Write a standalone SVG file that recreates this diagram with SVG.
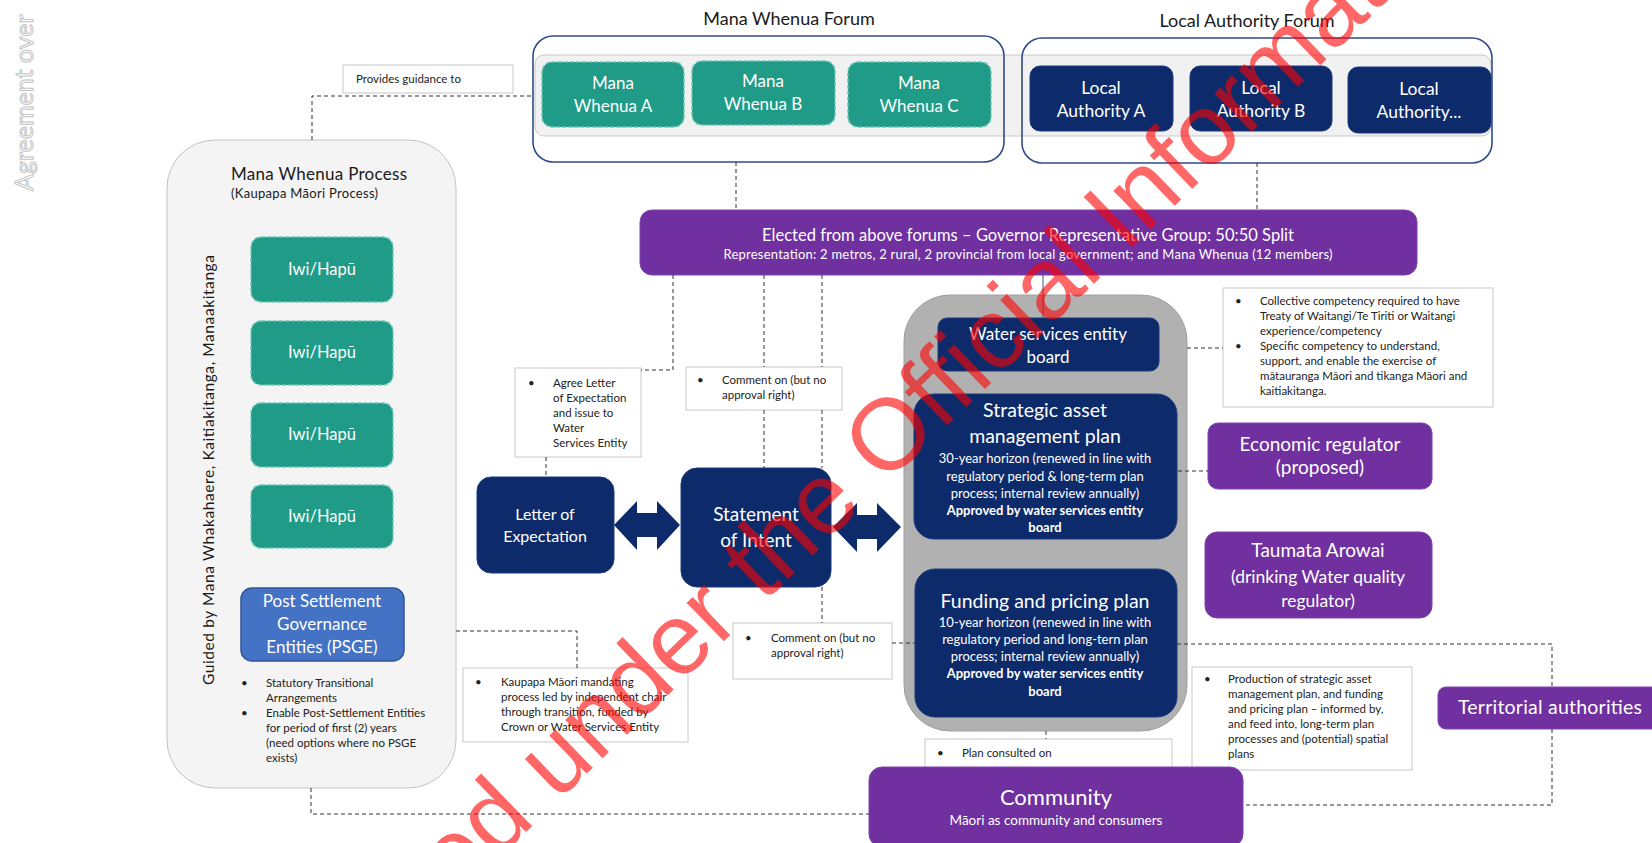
<svg xmlns="http://www.w3.org/2000/svg" width="1652" height="843" viewBox="0 0 1652 843">
<defs>
<style>
text{font-family:Lato,"Open Sans","Liberation Sans",sans-serif;}
.w{fill:#ffffff}
.c{text-anchor:middle}
.k{fill:#1a1a1a}
.note{fill:#ffffff;stroke:#c8c8c8;stroke-width:1}
.nt{font-size:11.5px;fill:#222222}
.teal{fill:#1f9b87;stroke:#6cc6b4;stroke-width:1.5;stroke-dasharray:4 2}
.navy{fill:#0d2b6b;stroke:#1d3b7c;stroke-width:1}
.purple{fill:#7030a0;stroke:#8044b0;stroke-width:1}
.dash{fill:none;stroke:#333333;stroke-width:1;stroke-dasharray:4 3}
.forum{fill:none;stroke:#2f4b8c;stroke-width:1.6}
.b{font-weight:bold}
</style>
</defs>
<rect x="0" y="0" width="1652" height="843" fill="#ffffff"/>

<!-- Top forums -->
<g id="forum-strip">
<rect x="535" y="55" width="956" height="81" rx="9" fill="#f1f1f1" stroke="#c9c9c9" stroke-width="1"/>
</g>
<g id="mana-whenua-forum">
<rect class="forum" x="533" y="36" width="471" height="126" rx="20"/>
<text x="789" y="25" class="c k" font-size="18">Mana Whenua Forum</text>
</g>
<g id="mana-whenua-a">
<rect class="teal" x="542" y="62" width="142" height="65" rx="10"/>
<text class="w c" x="613" y="89" font-size="17">Mana</text>
<text class="w c" x="613" y="112" font-size="17">Whenua A</text>
</g>
<g id="mana-whenua-b">
<rect class="teal" x="692" y="61" width="143" height="64" rx="10"/>
<text class="w c" x="763" y="87" font-size="17">Mana</text>
<text class="w c" x="763" y="110" font-size="17">Whenua B</text>
</g>
<g id="mana-whenua-c">
<rect class="teal" x="848" y="62" width="143" height="65" rx="10"/>
<text class="w c" x="919" y="89" font-size="17">Mana</text>
<text class="w c" x="919" y="112" font-size="17">Whenua C</text>
</g>

<g id="local-authority-forum">
<rect class="forum" x="1022" y="38" width="470" height="125" rx="20"/>
<text x="1247" y="27" class="c k" font-size="18">Local Authority Forum</text>
</g>
<g id="local-authority-a">
<rect class="navy" x="1030" y="66" width="143" height="65" rx="10"/>
<text class="w c" x="1101" y="94" font-size="17.5">Local</text>
<text class="w c" x="1101" y="117" font-size="17.5">Authority A</text>
</g>
<g id="local-authority-b">
<rect class="navy" x="1190" y="66" width="142" height="65" rx="10"/>
<text class="w c" x="1261" y="94" font-size="17.5">Local</text>
<text class="w c" x="1261" y="117" font-size="17.5">Authority B</text>
</g>
<g id="local-authority-c">
<rect class="navy" x="1348" y="67" width="143" height="66" rx="10"/>
<text class="w c" x="1419" y="95" font-size="17.5">Local</text>
<text class="w c" x="1419" y="118" font-size="17.5">Authority...</text>
</g>

<!-- Governor group -->
<g id="governor-group">
<rect class="purple" x="640" y="210" width="777" height="65" rx="12"/>
<text class="w c" x="1028" y="241" font-size="16.5" textLength="532">Elected from above forums – Governor Representative Group: 50:50 Split</text>
<text class="w c" x="1028" y="259" font-size="13" textLength="609">Representation: 2 metros, 2 rural, 2 provincial from local government; and Mana Whenua (12 members)</text>
</g>

<!-- Mana Whenua Process -->
<g id="mana-whenua-process">
<rect x="167" y="140" width="289" height="648" rx="48" fill="#f4f4f4" stroke="#c2c2c2" stroke-width="1"/>
<text x="231" y="180" font-size="17" class="k" textLength="176">Mana Whenua Process</text>
<text x="231" y="198" font-size="13" class="k" textLength="147">(Kaupapa Māori Process)</text>
<text transform="translate(214,470) rotate(-90)" class="c k" font-size="15.5" textLength="430">Guided by Mana Whakahaere, Kaitiakitanga, Manaakitanga</text>
</g>
<g id="iwi-1">
<rect class="teal" x="251" y="237" width="142" height="65" rx="10"/>
<text class="w c" x="322" y="275" font-size="16.5">Iwi/Hapū</text>
</g>
<g id="iwi-2">
<rect class="teal" x="251" y="321" width="142" height="64" rx="10"/>
<text class="w c" x="322" y="358" font-size="16.5">Iwi/Hapū</text>
</g>
<g id="iwi-3">
<rect class="teal" x="251" y="403" width="142" height="64" rx="10"/>
<text class="w c" x="322" y="440" font-size="16.5">Iwi/Hapū</text>
</g>
<g id="iwi-4">
<rect class="teal" x="251" y="485" width="142" height="63" rx="10"/>
<text class="w c" x="322" y="522" font-size="16.5">Iwi/Hapū</text>
</g>
<g id="psge">
<rect x="241" y="588" width="163" height="73" rx="11" fill="#4472c4" stroke="#2f5597" stroke-width="1.5"/>
<text class="w c" x="322" y="607" font-size="17">Post Settlement</text>
<text class="w c" x="322" y="630" font-size="17">Governance</text>
<text class="w c" x="322" y="653" font-size="17">Entities (PSGE)</text>
</g>
<g id="psge-notes" class="nt">
<text x="241" y="687">•</text>
<text x="266" y="687">Statutory Transitional</text>
<text x="266" y="702">Arrangements</text>
<text x="241" y="717">•</text>
<text x="266" y="717">Enable Post-Settlement Entities</text>
<text x="266" y="732">for period of first (2) years</text>
<text x="266" y="747">(need options where no PSGE</text>
<text x="266" y="762">exists)</text>
</g>

<!-- Notes -->
<g id="provides-guidance">
<rect class="note" x="343" y="65" width="170" height="28"/>
<text class="nt" x="356" y="83">Provides guidance to</text>
</g>
<g id="agree-letter-note" class="nt">
<rect class="note" x="515" y="368" width="126" height="89"/>
<text x="528" y="387">•</text>
<text x="553" y="387">Agree Letter</text>
<text x="553" y="402">of Expectation</text>
<text x="553" y="417">and issue to</text>
<text x="553" y="432">Water</text>
<text x="553" y="447">Services Entity</text>
</g>
<g id="comment-note-1" class="nt">
<rect class="note" x="686" y="367" width="156" height="43"/>
<text x="697" y="384">•</text>
<text x="722" y="384">Comment on (but no</text>
<text x="722" y="399">approval right)</text>
</g>
<g id="comment-note-2" class="nt">
<rect class="note" x="733" y="623" width="159" height="56"/>
<text x="745" y="642">•</text>
<text x="771" y="642">Comment on (but no</text>
<text x="771" y="657">approval right)</text>
</g>
<g id="kaupapa-note" class="nt">
<rect class="note" x="463" y="668" width="225" height="74"/>
<text x="475" y="686">•</text>
<text x="501" y="686">Kaupapa Māori mandating</text>
<text x="501" y="701">process led by independent chair</text>
<text x="501" y="716">through transition, funded by</text>
<text x="501" y="731">Crown or Water Services Entity</text>
</g>
<g id="competency-note" class="nt">
<rect class="note" x="1223" y="288" width="270" height="119"/>
<text x="1235" y="305">•</text>
<text x="1260" y="305">Collective competency required to have</text>
<text x="1260" y="320">Treaty of Waitangi/Te Tiriti or Waitangi</text>
<text x="1260" y="335">experience/competency</text>
<text x="1235" y="350">•</text>
<text x="1260" y="350">Specific competency to understand,</text>
<text x="1260" y="365">support, and enable the exercise of</text>
<text x="1260" y="380">mātauranga Māori  and tikanga Māori and</text>
<text x="1260" y="395">kaitiakitanga.</text>
</g>
<g id="production-note" class="nt">
<rect class="note" x="1192" y="667" width="220" height="103"/>
<text x="1204" y="683">•</text>
<text x="1228" y="683">Production of strategic asset</text>
<text x="1228" y="698">management plan, and funding</text>
<text x="1228" y="713">and pricing plan – informed by,</text>
<text x="1228" y="728">and feed into, long-term plan</text>
<text x="1228" y="743">processes and (potential) spatial</text>
<text x="1228" y="758">plans</text>
</g>
<g id="plan-consulted-note" class="nt">
<rect class="note" x="925" y="739" width="247" height="30"/>
<text x="937" y="757">•</text>
<text x="962" y="757">Plan consulted on</text>
</g>

<!-- Centre flow -->
<g id="letter-of-expectation">
<rect class="navy" x="477" y="477" width="137" height="96" rx="14"/>
<text class="w c" x="545" y="520" font-size="16">Letter of</text>
<text class="w c" x="545" y="542" font-size="16">Expectation</text>
</g>
<g id="statement-of-intent">
<rect class="navy" x="681" y="468" width="150" height="119" rx="16"/>
<text class="w c" x="756" y="521" font-size="19">Statement</text>
<text class="w c" x="756" y="547" font-size="19">of Intent</text>
</g>
<g id="arrows">
<polygon fill="#0d2b6b" points="614,525 637,501 637,513 657,513 657,501 680,525 657,550 657,537 637,537 637,550"/>
<polygon fill="#0d2b6b" points="833,527 857,503 857,515 877,515 877,503 901,527 877,552 877,539 857,539 857,552"/>
</g>

<!-- Water services entity -->
<g id="wse-container">
<rect x="904" y="295" width="283" height="436" rx="46" fill="#b1b1b1" stroke="#a0a0a0" stroke-width="1"/>
</g>
<g id="wse-board">
<rect class="navy" x="938" y="318" width="221" height="53" rx="9"/>
<text class="w c" x="1048" y="340" font-size="17">Water services entity</text>
<text class="w c" x="1048" y="363" font-size="17">board</text>
</g>
<g id="strategic-asset-plan">
<rect class="navy" x="914" y="394" width="263" height="145" rx="20"/>
<text class="w c" x="1045" y="417" font-size="19.5">Strategic asset</text>
<text class="w c" x="1045" y="443" font-size="19.5">management plan</text>
<text class="w c" x="1045" y="463" font-size="13">30-year horizon (renewed in line with</text>
<text class="w c" x="1045" y="481" font-size="13">regulatory period &amp; long-term plan</text>
<text class="w c" x="1045" y="498" font-size="13">process; internal review annually)</text>
<text class="w c b" x="1045" y="515" font-size="13">Approved by water services entity</text>
<text class="w c b" x="1045" y="532" font-size="13">board</text>
</g>
<g id="funding-pricing-plan">
<rect class="navy" x="915" y="569" width="262" height="148" rx="20"/>
<text class="w c" x="1045" y="608" font-size="19.5">Funding and pricing plan</text>
<text class="w c" x="1045" y="627" font-size="13">10-year horizon (renewed in line with</text>
<text class="w c" x="1045" y="644" font-size="13">regulatory period and long-tern plan</text>
<text class="w c" x="1045" y="661" font-size="13">process; internal review annually)</text>
<text class="w c b" x="1045" y="678" font-size="13">Approved by water services entity</text>
<text class="w c b" x="1045" y="696" font-size="13">board</text>
</g>

<!-- Regulators -->
<g id="economic-regulator">
<rect class="purple" x="1208" y="423" width="224" height="66" rx="10"/>
<text class="w c" x="1320" y="451" font-size="19">Economic regulator</text>
<text class="w c" x="1320" y="474" font-size="19">(proposed)</text>
</g>
<g id="taumata-arowai">
<rect class="purple" x="1205" y="532" width="227" height="86" rx="12"/>
<text class="w c" x="1318" y="557" font-size="19">Taumata Arowai</text>
<text class="w c" x="1318" y="583" font-size="17.5">(drinking Water quality</text>
<text class="w c" x="1318" y="607" font-size="17.5">regulator)</text>
</g>
<g id="territorial-authorities">
<rect class="purple" x="1438" y="687" width="222" height="42" rx="8"/>
<text class="w" x="1458" y="714" font-size="19.5" textLength="184">Territorial authorities</text>
</g>
<g id="community">
<rect class="purple" x="869" y="767" width="374" height="80" rx="13"/>
<text class="w c" x="1056" y="805" font-size="22">Community</text>
<text class="w c" x="1056" y="825" font-size="13.5">Māori as community and consumers</text>
</g>

<!-- Connectors -->
<g id="connectors">
<path class="dash" d="M312,140 V96 H533"/>
<path class="dash" d="M736,162 V210"/>
<path class="dash" d="M1257,163 V210"/>
<path class="dash" d="M673,275 V370 H641"/>
<path class="dash" d="M546,457 V477"/>
<path class="dash" d="M764,275 V367 M764,410 V468"/>
<path class="dash" d="M822,275 V367 M822,410 V468 M822,587 V623"/>
<path class="dash" d="M892,643 H915"/>
<path d="M1043,275 V318" stroke="#44546a" stroke-width="1" fill="none"/>
<path class="dash" d="M1187,348 H1223"/>
<path class="dash" d="M1178,471 H1208"/>
<path class="dash" d="M1177,644 H1552 V687 M1552,729 V805 H1243"/>
<path class="dash" d="M456,631 H577 V668"/>
<path class="dash" d="M311,788 V814 H869"/>
<path class="dash" d="M1046,731 V739"/>
</g>

<!-- Watermarks -->
<g id="watermark-side">
<text transform="translate(33,191) rotate(-90)" font-family="'DejaVu Sans',sans-serif" font-size="25" fill="none" stroke="#c4c4c4" stroke-width="1">Agreement over</text>
</g>
<g id="watermark">
<text transform="translate(230,1118) rotate(-44)" style="font-family:'Liberation Sans',Arial,sans-serif" font-size="101" fill="#ff0000" fill-opacity="0.6">Released under the Official Information Act</text>
</g>
</svg>
